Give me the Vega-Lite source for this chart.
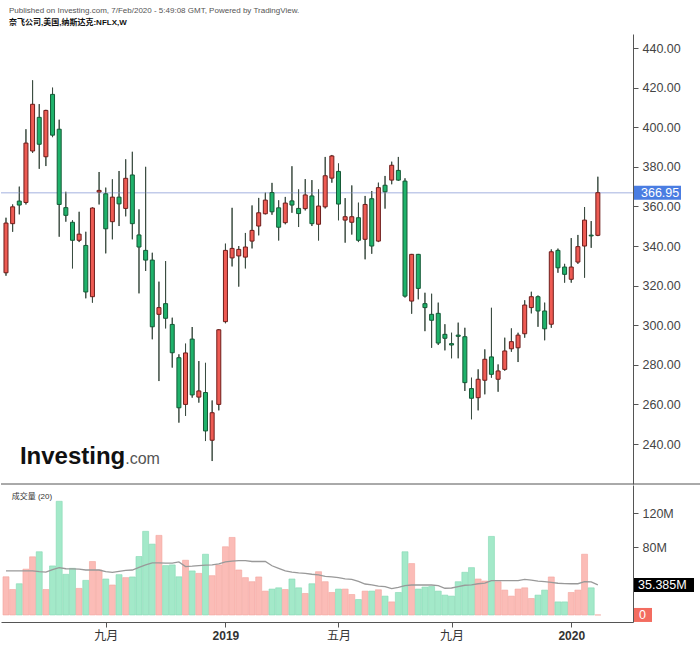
{
  "$schema": "https://vega.github.io/schema/vega-lite/v6.json",
  "background": "white",
  "padding": {"left": 0, "top": 7, "right": 0, "bottom": 0},
  "title": {
    "text": "Published on Investing.com, 7/Feb/2020 - 5:49:08 GMT, Powered by TradingView.",
    "subtitle": "奈飞公司,美国,纳斯达克:NFLX,W",
    "anchor": "start",
    "frame": "group",
    "dx": 8,
    "offset": 7,
    "font": "Liberation Sans, Noto Sans CJK SC",
    "fontSize": 8,
    "fontWeight": "normal",
    "color": "#555555",
    "subtitleFont": "Liberation Sans, Noto Sans CJK SC",
    "subtitleFontSize": 8,
    "subtitleFontWeight": "bold",
    "subtitleColor": "#111111",
    "subtitlePadding": 4
  },
  "config": {
    "view": {"stroke": null},
    "axis": {"grid": false, "domainColor": "#555555", "tickColor": "#555555", "labelColor": "#444444", "labelFont": "Liberation Sans, Noto Sans CJK SC", "labelFontSize": 12.5}
  },
  "datasets": {
    "weekly": [
      {"date":"2018-05-21","open":326.5,"high":354.3,"low":325.0,"close":351.6,"volume":45000000,"ma":52000000},
      {"date":"2018-05-28","open":351.3,"high":361.0,"low":347.2,"close":359.8,"volume":30000000,"ma":52000000},
      {"date":"2018-06-04","open":362.7,"high":370.0,"low":356.0,"close":360.7,"volume":36800000,"ma":52000000},
      {"date":"2018-06-11","open":362.0,"high":399.0,"low":361.0,"close":392.0,"volume":54000000,"ma":52000000},
      {"date":"2018-06-18","open":388.0,"high":423.7,"low":387.0,"close":411.6,"volume":68500000,"ma":52000000},
      {"date":"2018-06-25","open":405.0,"high":411.7,"low":379.0,"close":391.4,"volume":74500000,"ma":51000000},
      {"date":"2018-07-02","open":385.1,"high":408.8,"low":380.4,"close":408.5,"volume":30000000,"ma":50500000},
      {"date":"2018-07-09","open":416.6,"high":420.0,"low":395.0,"close":396.0,"volume":57800000,"ma":53500000},
      {"date":"2018-07-16","open":399.0,"high":403.8,"low":344.7,"close":361.0,"volume":134000000,"ma":55800000},
      {"date":"2018-07-23","open":359.4,"high":367.4,"low":352.3,"close":355.5,"volume":47900000,"ma":54500000},
      {"date":"2018-07-30","open":352.0,"high":353.0,"low":328.7,"close":342.9,"volume":55000000,"ma":54300000},
      {"date":"2018-08-06","open":342.9,"high":357.3,"low":342.0,"close":346.0,"volume":31300000,"ma":54000000},
      {"date":"2018-08-13","open":340.3,"high":347.2,"low":313.6,"close":316.8,"volume":40800000,"ma":53000000},
      {"date":"2018-08-20","open":314.4,"high":359.5,"low":311.4,"close":359.2,"volume":63000000,"ma":53000000},
      {"date":"2018-08-27","open":367.3,"high":377.4,"low":361.0,"close":368.1,"volume":53000000,"ma":53000000},
      {"date":"2018-09-03","open":366.4,"high":369.5,"low":336.3,"close":348.7,"volume":42400000,"ma":51000000},
      {"date":"2018-09-10","open":352.3,"high":373.7,"low":343.4,"close":364.7,"volume":35300000,"ma":50300000},
      {"date":"2018-09-17","open":364.7,"high":377.9,"low":350.1,"close":361.3,"volume":47500000,"ma":51500000},
      {"date":"2018-09-24","open":359.0,"high":383.8,"low":355.0,"close":374.2,"volume":44000000,"ma":52500000},
      {"date":"2018-10-01","open":375.9,"high":387.6,"low":343.4,"close":351.3,"volume":44800000,"ma":53000000},
      {"date":"2018-10-08","open":345.6,"high":358.5,"low":316.1,"close":339.5,"volume":68900000,"ma":56000000},
      {"date":"2018-10-15","open":337.8,"high":380.0,"low":327.4,"close":332.9,"volume":98600000,"ma":59000000},
      {"date":"2018-10-22","open":332.9,"high":336.6,"low":292.9,"close":299.2,"volume":83500000,"ma":61400000},
      {"date":"2018-10-29","open":305.5,"high":322.0,"low":271.8,"close":308.9,"volume":93800000,"ma":61300000},
      {"date":"2018-11-05","open":310.9,"high":332.4,"low":298.4,"close":303.5,"volume":58200000,"ma":61000000},
      {"date":"2018-11-12","open":300.4,"high":303.8,"low":278.6,"close":286.1,"volume":59000000,"ma":61000000},
      {"date":"2018-11-19","open":283.6,"high":285.3,"low":250.8,"close":258.3,"volume":45000000,"ma":62500000},
      {"date":"2018-11-26","open":260.0,"high":290.7,"low":254.2,"close":286.0,"volume":64500000,"ma":57000000},
      {"date":"2018-12-03","open":293.0,"high":299.1,"low":263.4,"close":264.8,"volume":51900000,"ma":57500000},
      {"date":"2018-12-10","open":263.7,"high":281.9,"low":260.9,"close":266.8,"volume":49000000,"ma":58200000},
      {"date":"2018-12-17","open":266.0,"high":281.0,"low":241.5,"close":246.6,"volume":71600000,"ma":58800000},
      {"date":"2018-12-24","open":241.9,"high":262.0,"low":231.4,"close":255.8,"volume":46300000,"ma":59000000},
      {"date":"2018-12-31","open":260.0,"high":298.0,"low":257.0,"close":297.7,"volume":59000000,"ma":60300000},
      {"date":"2019-01-07","open":301.8,"high":341.2,"low":301.0,"close":337.8,"volume":80400000,"ma":62500000},
      {"date":"2019-01-14","open":334.0,"high":359.3,"low":329.7,"close":338.8,"volume":91400000,"ma":63500000},
      {"date":"2019-01-21","open":335.0,"high":340.0,"low":319.5,"close":338.3,"volume":53000000,"ma":64000000},
      {"date":"2019-01-28","open":334.4,"high":346.6,"low":328.7,"close":339.5,"volume":44000000,"ma":64000000},
      {"date":"2019-02-04","open":342.5,"high":360.5,"low":338.8,"close":347.9,"volume":39200000,"ma":63000000},
      {"date":"2019-02-11","open":350.1,"high":364.3,"low":345.4,"close":356.8,"volume":44800000,"ma":63000000},
      {"date":"2019-02-18","open":356.3,"high":367.0,"low":356.0,"close":363.2,"volume":28100000,"ma":63000000},
      {"date":"2019-02-25","open":367.0,"high":371.9,"low":355.8,"close":357.3,"volume":30500000,"ma":58000000},
      {"date":"2019-03-04","open":359.3,"high":363.1,"low":342.8,"close":349.5,"volume":32000000,"ma":55000000},
      {"date":"2019-03-11","open":351.8,"high":364.8,"low":351.0,"close":361.7,"volume":30000000,"ma":52000000},
      {"date":"2019-03-18","open":362.8,"high":380.3,"low":356.8,"close":360.7,"volume":42400000,"ma":50500000},
      {"date":"2019-03-25","open":359.0,"high":368.6,"low":349.6,"close":356.4,"volume":32000000,"ma":49500000},
      {"date":"2019-04-01","open":358.9,"high":373.8,"low":358.0,"close":365.8,"volume":25300000,"ma":49000000},
      {"date":"2019-04-08","open":365.3,"high":373.3,"low":350.1,"close":351.3,"volume":36800000,"ma":48000000},
      {"date":"2019-04-15","open":351.0,"high":368.6,"low":342.8,"close":360.2,"volume":51000000,"ma":47200000},
      {"date":"2019-04-22","open":359.8,"high":385.0,"low":359.0,"close":375.5,"volume":39200000,"ma":45500000},
      {"date":"2019-04-29","open":374.3,"high":386.0,"low":372.0,"close":385.5,"volume":26500000,"ma":45000000},
      {"date":"2019-05-06","open":377.7,"high":381.7,"low":353.0,"close":361.2,"volume":30500000,"ma":44000000},
      {"date":"2019-05-13","open":353.1,"high":364.2,"low":341.7,"close":354.8,"volume":30500000,"ma":42500000},
      {"date":"2019-05-20","open":352.0,"high":370.6,"low":345.8,"close":354.8,"volume":24100000,"ma":41900000},
      {"date":"2019-05-27","open":354.3,"high":361.9,"low":342.0,"close":342.9,"volume":18200000,"ma":39500000},
      {"date":"2019-06-03","open":343.4,"high":365.3,"low":333.3,"close":361.0,"volume":28100000,"ma":36500000},
      {"date":"2019-06-10","open":363.9,"high":367.8,"low":336.1,"close":340.0,"volume":28100000,"ma":35500000},
      {"date":"2019-06-17","open":342.5,"high":372.0,"low":342.0,"close":369.5,"volume":29700000,"ma":34000000},
      {"date":"2019-06-24","open":370.7,"high":375.4,"low":358.9,"close":367.4,"volume":22200000,"ma":33300000},
      {"date":"2019-07-01","open":373.3,"high":382.6,"low":371.2,"close":380.8,"volume":15400000,"ma":31000000},
      {"date":"2019-07-08","open":378.2,"high":385.0,"low":373.0,"close":373.3,"volume":26500000,"ma":32500000},
      {"date":"2019-07-15","open":372.8,"high":374.2,"low":314.0,"close":314.7,"volume":74500000,"ma":34500000},
      {"date":"2019-07-22","open":312.2,"high":336.0,"low":305.8,"close":335.8,"volume":60600000,"ma":35300000},
      {"date":"2019-07-29","open":335.8,"high":336.0,"low":313.1,"close":318.6,"volume":30500000,"ma":35300000},
      {"date":"2019-08-05","open":310.9,"high":316.4,"low":297.0,"close":308.9,"volume":32900000,"ma":35300000},
      {"date":"2019-08-12","open":305.5,"high":315.9,"low":288.6,"close":302.5,"volume":33500000,"ma":35300000},
      {"date":"2019-08-19","open":306.0,"high":311.4,"low":290.0,"close":291.0,"volume":28100000,"ma":34500000},
      {"date":"2019-08-26","open":295.4,"high":300.5,"low":287.3,"close":293.4,"volume":23400000,"ma":31500000},
      {"date":"2019-09-02","open":290.7,"high":296.2,"low":283.3,"close":290.0,"volume":22200000,"ma":31800000},
      {"date":"2019-09-09","open":295.0,"high":301.3,"low":283.3,"close":294.4,"volume":39200000,"ma":33500000},
      {"date":"2019-09-16","open":294.2,"high":298.7,"low":266.8,"close":271.0,"volume":50300000,"ma":35000000},
      {"date":"2019-09-23","open":268.0,"high":273.5,"low":252.5,"close":263.1,"volume":55800000,"ma":35500000},
      {"date":"2019-09-30","open":263.4,"high":277.7,"low":257.0,"close":272.7,"volume":42400000,"ma":36800000},
      {"date":"2019-10-07","open":272.2,"high":287.8,"low":265.1,"close":282.8,"volume":40000000,"ma":37500000},
      {"date":"2019-10-14","open":284.0,"high":308.8,"low":273.5,"close":275.2,"volume":92600000,"ma":40400000},
      {"date":"2019-10-21","open":272.7,"high":280.2,"low":266.4,"close":276.9,"volume":39200000,"ma":40400000},
      {"date":"2019-10-28","open":277.7,"high":293.7,"low":277.0,"close":287.0,"volume":29300000,"ma":40400000},
      {"date":"2019-11-04","open":288.1,"high":298.4,"low":286.6,"close":291.7,"volume":22200000,"ma":40400000},
      {"date":"2019-11-11","open":288.6,"high":296.2,"low":281.4,"close":295.0,"volume":30500000,"ma":40400000},
      {"date":"2019-11-18","open":295.7,"high":312.6,"low":293.7,"close":310.2,"volume":32000000,"ma":41900000},
      {"date":"2019-11-25","open":308.9,"high":316.9,"low":306.0,"close":314.4,"volume":19400000,"ma":41000000},
      {"date":"2019-12-02","open":314.4,"high":315.0,"low":299.2,"close":307.2,"volume":23400000,"ma":40000000},
      {"date":"2019-12-09","open":307.2,"high":311.4,"low":292.4,"close":298.2,"volume":29300000,"ma":39300000},
      {"date":"2019-12-16","open":300.5,"high":338.3,"low":298.7,"close":337.1,"volume":44800000,"ma":38500000},
      {"date":"2019-12-23","open":337.8,"high":338.7,"low":326.5,"close":329.0,"volume":15400000,"ma":37400000},
      {"date":"2019-12-30","open":329.4,"high":331.0,"low":321.5,"close":325.7,"volume":15400000,"ma":37000000},
      {"date":"2020-01-06","open":323.2,"high":344.0,"low":321.5,"close":329.4,"volume":26500000,"ma":36800000},
      {"date":"2020-01-13","open":331.9,"high":345.6,"low":331.0,"close":339.7,"volume":29300000,"ma":36800000},
      {"date":"2020-01-20","open":340.0,"high":359.7,"low":324.0,"close":353.1,"volume":71600000,"ma":39200000},
      {"date":"2020-01-27","open":345.5,"high":352.6,"low":339.1,"close":345.1,"volume":32000000,"ma":39000000},
      {"date":"2020-02-03","open":345.4,"high":375.0,"low":345.0,"close":366.95,"volume":0,"ma":35385000}
    ]
  },
  "spacing": 0,
  "vconcat": [
    {
      "width": 632,
      "height": 450,
      "data": {"name": "weekly"},
      "layer": [
        {
          "mark": {"type": "rule", "color": "#3b4c41", "strokeWidth": 1},
          "encoding": {
            "x": {"field": "date", "type": "temporal", "scale": {"type": "utc", "domain": [{"year": 2018, "month": 5, "date": 15, "hours": 18, "utc": true}, {"year": 2020, "month": 3, "date": 11, "utc": true}], "nice": false, "padding": 0}, "axis": null},
            "y": {"field": "low", "type": "quantitative", "scale": {"domain": [219.8, 447.1], "nice": false, "zero": false},
              "axis": {"orient": "right", "values": [240, 260, 280, 300, 320, 340, 360, 380, 400, 420, 440], "format": ".2f", "title": null, "tickSize": 5, "labelPadding": 4}},
            "y2": {"field": "high"}
          }
        },
        {
          "transform": [{"filter": "datum.volume == 0"}],
          "mark": {"type": "rule", "color": "#c2cbea", "strokeWidth": 1.5},
          "encoding": {
            "y": {"field": "close", "type": "quantitative"}
          }
        },
        {
          "mark": {"type": "rule", "color": "#3b4c41", "strokeWidth": 1},
          "encoding": {
            "x": {"field": "date", "type": "temporal", "axis": null},
            "y": {"field": "low", "type": "quantitative"},
            "y2": {"field": "high"}
          }
        },
        {
          "mark": {"type": "bar", "width": 4, "strokeWidth": 1},
          "encoding": {
            "x": {"field": "date", "type": "temporal", "scale": {"type": "utc", "domain": [{"year": 2018, "month": 5, "date": 15, "hours": 18, "utc": true}, {"year": 2020, "month": 3, "date": 11, "utc": true}], "nice": false, "padding": 0}, "axis": null},
            "y": {"field": "open", "type": "quantitative"},
            "y2": {"field": "close"},
            "fill": {"condition": {"test": "datum.close >= datum.open", "value": "#ee5b53"}, "value": "#1fb26b"},
            "stroke": {"condition": {"test": "datum.close >= datum.open", "value": "#6e1d1b"}, "value": "#145a36"}
          }
        },
        {
          "data": {"values": [{}]},
          "mark": {"type": "text", "text": "Investing", "font": "Liberation Sans", "fontSize": 24, "fontWeight": "bold", "color": "#111111", "align": "left", "baseline": "alphabetic"},
          "encoding": {
            "x": {"datum": {"year": 2018, "month": 6, "date": 4, "hours": 16, "utc": true}, "type": "temporal", "axis": null},
            "y": {"datum": 230, "type": "quantitative"}
          }
        },
        {
          "data": {"values": [{}]},
          "mark": {"type": "text", "text": ".com", "font": "Liberation Sans", "fontSize": 16, "fontWeight": "normal", "color": "#555555", "align": "left", "baseline": "alphabetic"},
          "encoding": {
            "x": {"datum": {"year": 2018, "month": 9, "date": 23, "hours": 12, "utc": true}, "type": "temporal", "axis": null},
            "y": {"datum": 230, "type": "quantitative"}
          }
        },
        {
          "data": {"values": [{}]},
          "mark": {"type": "rule", "color": "#555555", "strokeWidth": 1},
          "encoding": {
            "x": {"datum": {"year": 2018, "month": 5, "date": 15, "hours": 18, "utc": true}, "type": "temporal", "axis": null},
            "x2": {"datum": {"year": 2020, "month": 6, "date": 1, "utc": true}},
            "y": {"datum": 219.8, "type": "quantitative"}
          }
        },
        {
          "transform": [{"filter": "datum.volume == 0"}],
          "mark": {"type": "point", "x": "width", "filled": true, "fill": "#4a7de2", "opacity": 1, "strokeWidth": 0, "size": 10000, "shape": "M0.02,-0.14L0.96,-0.14L0.96,0.14L0.02,0.14Z"},
          "encoding": {
            "y": {"field": "close", "type": "quantitative"}
          }
        },
        {
          "transform": [{"filter": "datum.volume == 0"}],
          "mark": {"type": "text", "x": "width", "dx": 8, "align": "left", "baseline": "middle", "font": "Liberation Sans", "fontSize": 12.5, "color": "#ffffff"},
          "encoding": {
            "y": {"field": "close", "type": "quantitative"},
            "text": {"field": "close", "type": "quantitative", "format": ".2f"}
          }
        }
      ]
    },
    {
      "width": 632,
      "height": 137,
      "data": {"name": "weekly"},
      "layer": [
        {
          "mark": {"type": "bar", "width": 6, "strokeWidth": 0.6},
          "encoding": {
            "x": {"field": "date", "type": "temporal", "scale": {"type": "utc", "domain": [{"year": 2018, "month": 5, "date": 15, "hours": 18, "utc": true}, {"year": 2020, "month": 3, "date": 11, "utc": true}], "nice": false, "padding": 0},
              "axis": {"orient": "bottom", "title": null, "values": [{"year": 2018, "month": 9, "date": 3, "utc": true}, {"year": 2019, "month": 1, "date": 7, "utc": true}, {"year": 2019, "month": 5, "date": 6, "utc": true}, {"year": 2019, "month": 9, "date": 2, "utc": true}, {"year": 2020, "month": 1, "date": 6, "utc": true}],
                "labelExpr": "utcmonth(datum.value) == 8 ? '九月' : (utcmonth(datum.value) == 4 ? '五月' : utcFormat(datum.value, '%Y'))",
                "tickSize": 5, "labelPadding": 3, "labelFontSize": 12, "labelColor": "#333333",
                "labelFontWeight": {"condition": {"test": "utcmonth(datum.value) == 0", "value": "bold"}, "value": "normal"}}},
            "y": {"field": "volume", "type": "quantitative", "scale": {"domain": [-8300000, 153200000], "nice": false, "zero": true},
              "axis": {"orient": "right", "values": [80000000, 120000000], "format": "~s", "title": null, "tickSize": 5, "labelPadding": 4}},
            "fill": {"condition": {"test": "datum.close >= datum.open", "value": "#fbbcb7"}, "value": "#a3e9c9"},
            "stroke": {"condition": {"test": "datum.close >= datum.open", "value": "#f3a49e"}, "value": "#84d9b3"}
          }
        },
        {
          "mark": {"type": "line", "color": "#999999", "strokeWidth": 1.3},
          "encoding": {
            "x": {"field": "date", "type": "temporal"},
            "y": {"field": "ma", "type": "quantitative"}
          }
        },
        {
          "data": {"values": [{}]},
          "mark": {"type": "text", "text": "成交量 (20)", "font": "Liberation Sans, Noto Sans CJK SC", "fontSize": 8, "color": "#333333", "align": "left", "baseline": "middle"},
          "encoding": {
            "x": {"datum": {"year": 2018, "month": 5, "date": 27, "utc": true}, "type": "temporal"},
            "y": {"datum": 139000000, "type": "quantitative"}
          }
        },
        {
          "transform": [{"filter": "datum.volume == 0"}],
          "mark": {"type": "point", "x": "width", "filled": true, "fill": "#000000", "opacity": 1, "strokeWidth": 0, "size": 15376, "shape": "M0.016,-0.113L0.984,-0.113L0.984,0.113L0.016,0.113Z"},
          "encoding": {
            "y": {"field": "ma", "type": "quantitative"}
          }
        },
        {
          "transform": [{"filter": "datum.volume == 0"}],
          "mark": {"type": "text", "x": "width", "dx": 5, "align": "left", "baseline": "middle", "font": "Liberation Sans", "fontSize": 12.5, "color": "#ffffff"},
          "encoding": {
            "y": {"field": "ma", "type": "quantitative"},
            "text": {"field": "ma", "type": "quantitative", "format": ".5s"}
          }
        },
        {
          "transform": [{"filter": "datum.volume == 0"}],
          "mark": {"type": "point", "x": "width", "filled": true, "fill": "#f36c60", "opacity": 1, "strokeWidth": 0, "size": 1600, "shape": "M0.05,-0.35L0.95,-0.35L0.95,0.35L0.05,0.35Z"},
          "encoding": {
            "y": {"field": "volume", "type": "quantitative"}
          }
        },
        {
          "transform": [{"filter": "datum.volume == 0"}],
          "mark": {"type": "text", "x": "width", "dx": 6, "align": "left", "baseline": "middle", "font": "Liberation Sans", "fontSize": 12.5, "color": "#ffffff"},
          "encoding": {
            "y": {"field": "volume", "type": "quantitative"},
            "text": {"field": "volume", "type": "quantitative", "format": "~s"}
          }
        }
      ]
    }
  ]
}
